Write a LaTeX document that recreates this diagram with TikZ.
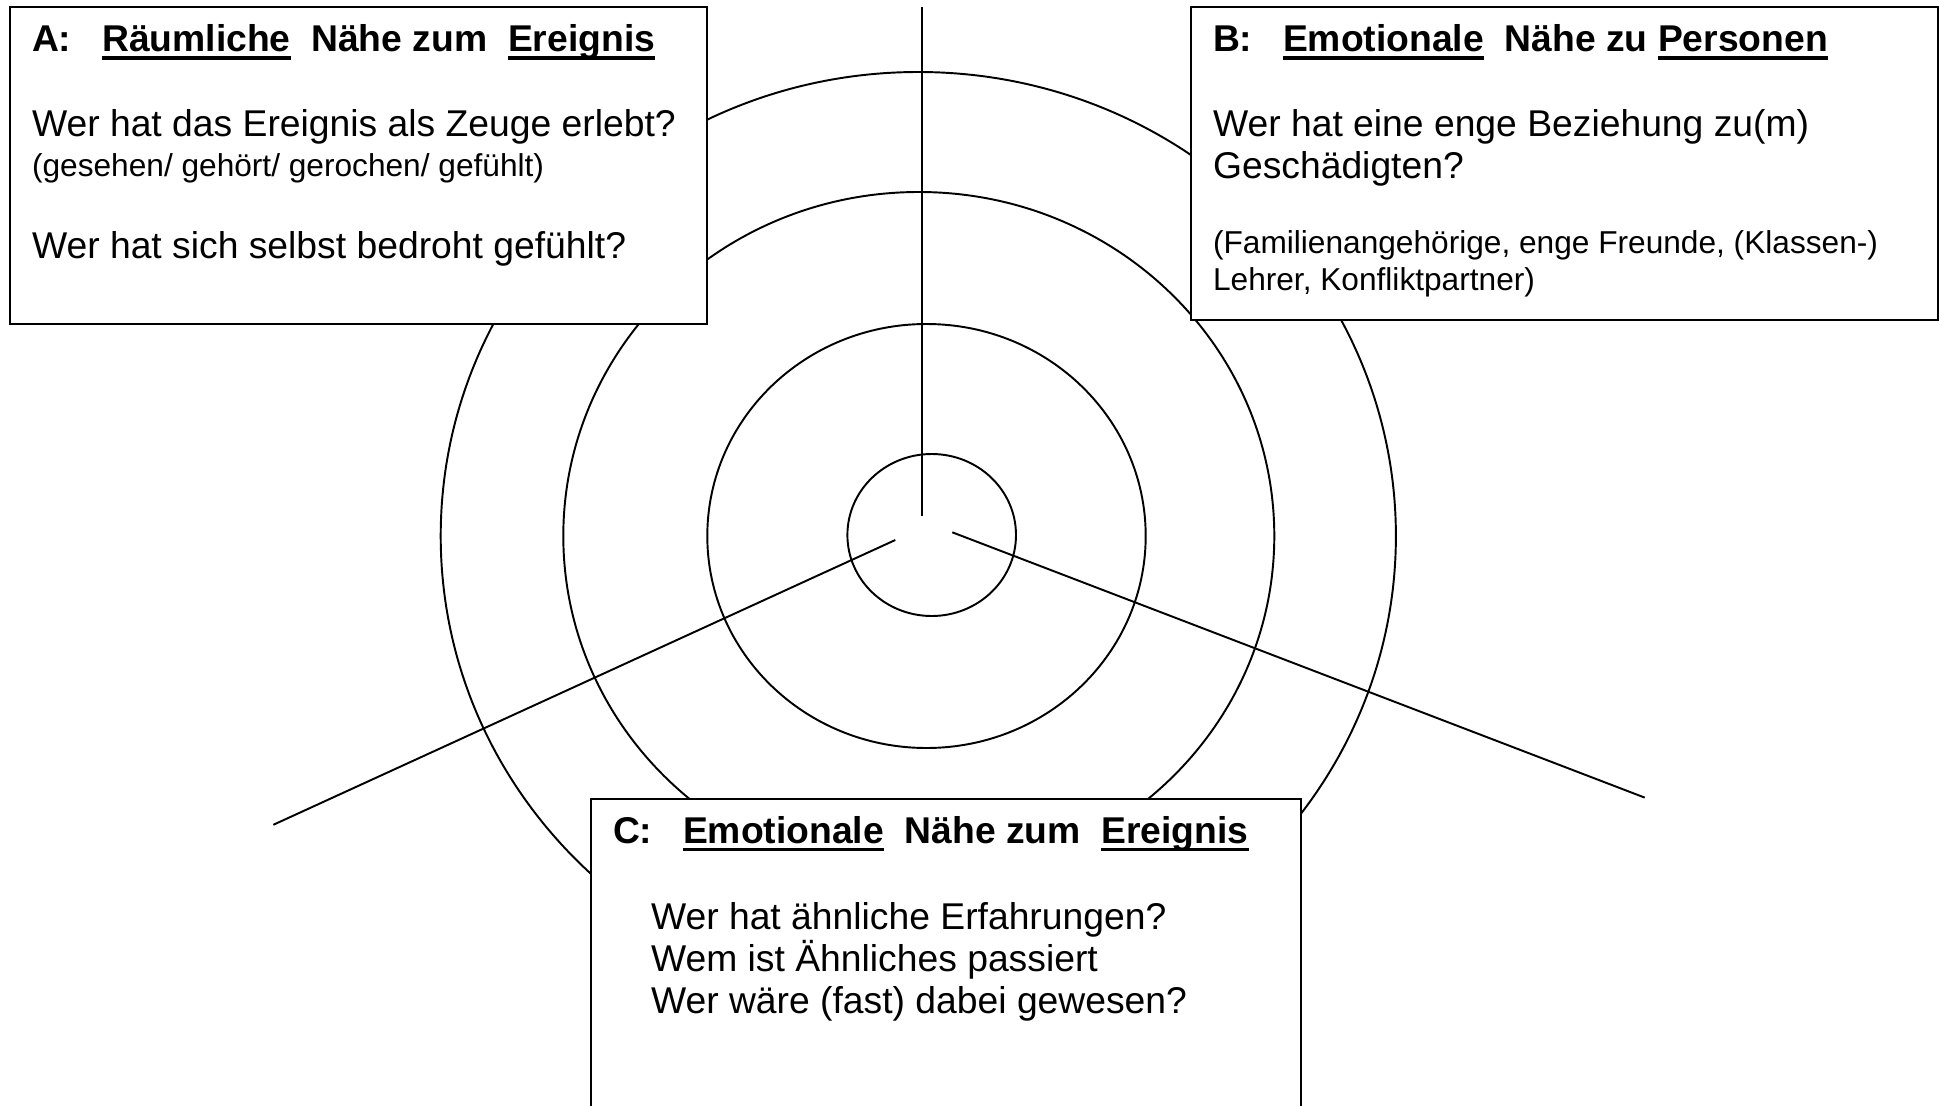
\documentclass[tikz,border=0pt]{standalone}
\usepackage{fontspec}
\setmainfont{Liberation Sans}
\usetikzlibrary{positioning}
\newcommand\uword[1]{\setbox0\hbox{#1}\rlap{\rule[-2.3pt]{\wd0}{1.1pt}}\box0}

\begin{document}
\begin{tikzpicture}[x=0.01cm,y=-0.01cm,line width=0.6pt,
  ring/.style={line width=0.55pt},
  panel/.style={draw,fill=white,anchor=north west,inner sep=0pt,outer sep=0pt},
  txt/.style={anchor=base west,inner sep=0pt,font=\fontsize{10.6}{12}\selectfont},
  small/.style={txt,font=\fontsize{9}{10.5}\selectfont},
  head/.style={txt,font=\fontsize{10.6}{12}\selectfont\bfseries}]
\useasboundingbox (0,0) rectangle (1939,1106);
\clip (0,0) rectangle (1939,1106);
% rings round the event
\draw[ring] (931.7,535) ellipse [x radius=84.3,y radius=81];
\draw[ring] (926.5,536) ellipse [x radius=219.2,y radius=212];
\draw[ring] (918.8,536) ellipse [x radius=355.5,y radius=344];
\draw[ring] (918.3,536) ellipse [x radius=477.6,y radius=464];
% spokes
\coordinate (hubA) at (922.3,516); \coordinate (endA) at (922.3,7);
\coordinate (hubC) at (895.3,540); \coordinate (endC) at (273.3,824.8);
\coordinate (hubB) at (952.3,532.3); \coordinate (endB) at (1644.7,797.6);
\draw[ring] (hubA)--(endA);\draw[ring] (hubC)--(endC);\draw[ring] (hubB)--(endB);
% boxes
\node[panel,minimum width=6.97cm,minimum height=3.17cm] (boxA) at (10,7) {};
\node[panel,minimum width=7.47cm,minimum height=3.13cm] (boxB) at (1191,7) {};
\node[panel,minimum width=7.10cm,minimum height=3.6cm] (boxC) at (591,799) {};
% A
\node[head] (headA) at (31,51.7) {\makebox[0.70cm][l]{A:}\uword{Räumliche}~~Nähe zum~~\uword{Ereignis}};
\node[txt] (a1) at (31,136.7) {Wer hat das Ereignis als Zeuge erlebt?};
\node[small] (a2) at (31,176.7) {(gesehen/ gehört/ gerochen/ gefühlt)};
\node[txt] (a3) at (31,258.3) {Wer hat sich selbst bedroht gefühlt?};
% B
\node[head] (headB) at (1212,51.7) {\makebox[0.70cm][l]{B:}\uword{Emotionale}~~Nähe zu \uword{Personen}};
\node[txt] (b1) at (1212,136.7) {Wer hat eine enge Beziehung zu(m)};
\node[txt] (b2) at (1212,178.3) {Geschädigten?};
\node[small] (b3) at (1212,253.3) {(Familienangehörige, enge Freunde, (Klassen-)};
\node[small] (b4) at (1212,290) {Lehrer, Konfliktpartner)};
% C
\node[head] (headC) at (612,843.3) {\makebox[0.70cm][l]{C:}\uword{Emotionale}~~Nähe zum~~\uword{Ereignis}};
\node[txt] (c1) at (650,929.3) {Wer hat ähnliche Erfahrungen?};
\node[txt] (c2) at (650,971.7) {Wem ist Ähnliches passiert};
\node[txt] (c3) at (650,1013.3) {Wer wäre (fast) dabei gewesen?};
\end{tikzpicture}
\end{document}
